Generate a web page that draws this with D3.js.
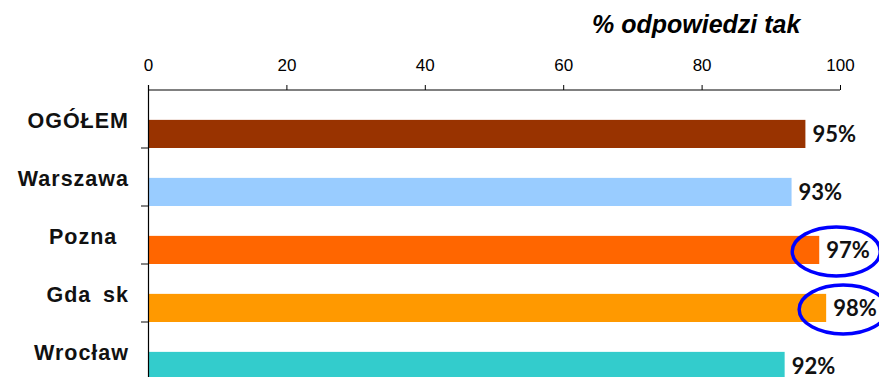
<!DOCTYPE html>
<html><head><meta charset="utf-8">
<script src="https://cdn.jsdelivr.net/npm/d3@7/dist/d3.min.js"></script>
<style>body{margin:0;background:#fff}svg{display:block}</style>
</head><body>
<svg id="c" width="879" height="377"></svg>
<script>
const categories = ["OGÓŁEM", "Warszawa", "Pozna\u2002", "Gda\u2002sk", "Wrocław"];
const values = [95, 93, 97, 98, 92];
const colors = ["#993300", "#99ccff", "#ff6600", "#ff9900", "#33cccc"];
const ticks = [0, 20, 40, 60, 80, 100];
const highlighted = ["Pozna\u2002", "Gda\u2002sk"];
const title = "% odpowiedzi tak";

const svg = d3.select("#c");
const x = d3.scaleLinear().domain([0, 100]).range([148, 840]);
const y = d3.scaleBand().domain(categories).range([90, 380]).padding(0);
const bw = y.bandwidth();

// title
svg.append("text").attr("x", 592).attr("y", 33)
  .attr("font-family", "Liberation Sans, Arial, sans-serif")
  .attr("font-weight", "bold").attr("font-style", "italic")
  .attr("font-size", 25).attr("fill", "#000").text(title);

// top axis
const axisTop = d3.axisTop(x).tickValues(ticks).tickSize(5).tickPadding(14).tickFormat(d3.format("d"));
const gx = svg.append("g").attr("transform", "translate(0,90)").call(axisTop);
gx.select(".domain").attr("stroke", "#808080").attr("stroke-width", 2).attr("d", `M${x(0)},0H${x(100)}`);
gx.selectAll(".tick line").attr("stroke", "#000");
gx.selectAll(".tick text").attr("font-family", "Liberation Sans, Arial, sans-serif")
  .attr("font-size", 17).attr("fill", "#000");

// bars
svg.selectAll("rect.bar").data(categories).join("rect").attr("class", "bar")
  .attr("x", x(0)).attr("y", d => y(d) + bw * 0.515)
  .attr("width", (d, i) => x(values[i]) - x(0))
  .attr("height", bw * 0.485)
  .attr("fill", (d, i) => colors[i]);

// left axis
svg.append("line").attr("x1", x(0) + 0.5).attr("x2", x(0) + 0.5).attr("y1", 85).attr("y2", 380)
  .attr("stroke", "#000").attr("stroke-width", 1.2);
svg.selectAll("line.ct").data(categories.slice(1)).join("line").attr("class", "ct")
  .attr("x1", x(0) - 7).attr("x2", x(0)).attr("y1", d => y(d)).attr("y2", d => y(d))
  .attr("stroke", "#333").attr("stroke-width", 1.2);

// category labels
svg.selectAll("text.cat").data(categories).join("text").attr("class", "cat")
  .attr("x", 129).attr("y", d => y(d) + bw / 2 + 9)
  .attr("text-anchor", "end").style("white-space", "pre").style("letter-spacing", "1px")
  .attr("font-family", "Liberation Sans, Arial, sans-serif").attr("font-weight", "bold")
  .attr("font-size", 21.5).attr("fill", "#111").text(d => d);

// value labels
svg.selectAll("text.val").data(categories).join("text").attr("class", "val")
  .attr("x", (d, i) => x(values[i]) + 7)
  .attr("y", d => y(d) + bw * 0.515 + bw * 0.485 / 2 + 8)
  .attr("font-family", "Lato, sans-serif").attr("font-weight", "bold")
  .attr("font-size", 22).attr("fill", "#111").text((d, i) => values[i] + "%");

// highlight ellipses
svg.selectAll("ellipse.hl").data(highlighted).join("ellipse").attr("class", "hl")
  .attr("cx", d => x(values[categories.indexOf(d)]) + 17)
  .attr("cy", d => y(d) + bw * 0.515 + bw * 0.485 / 2 + 1.5)
  .attr("rx", 44).attr("ry", 24.5)
  .attr("fill", "none").attr("stroke", "#0000ff").attr("stroke-width", 3.5);
</script>
</body></html>
